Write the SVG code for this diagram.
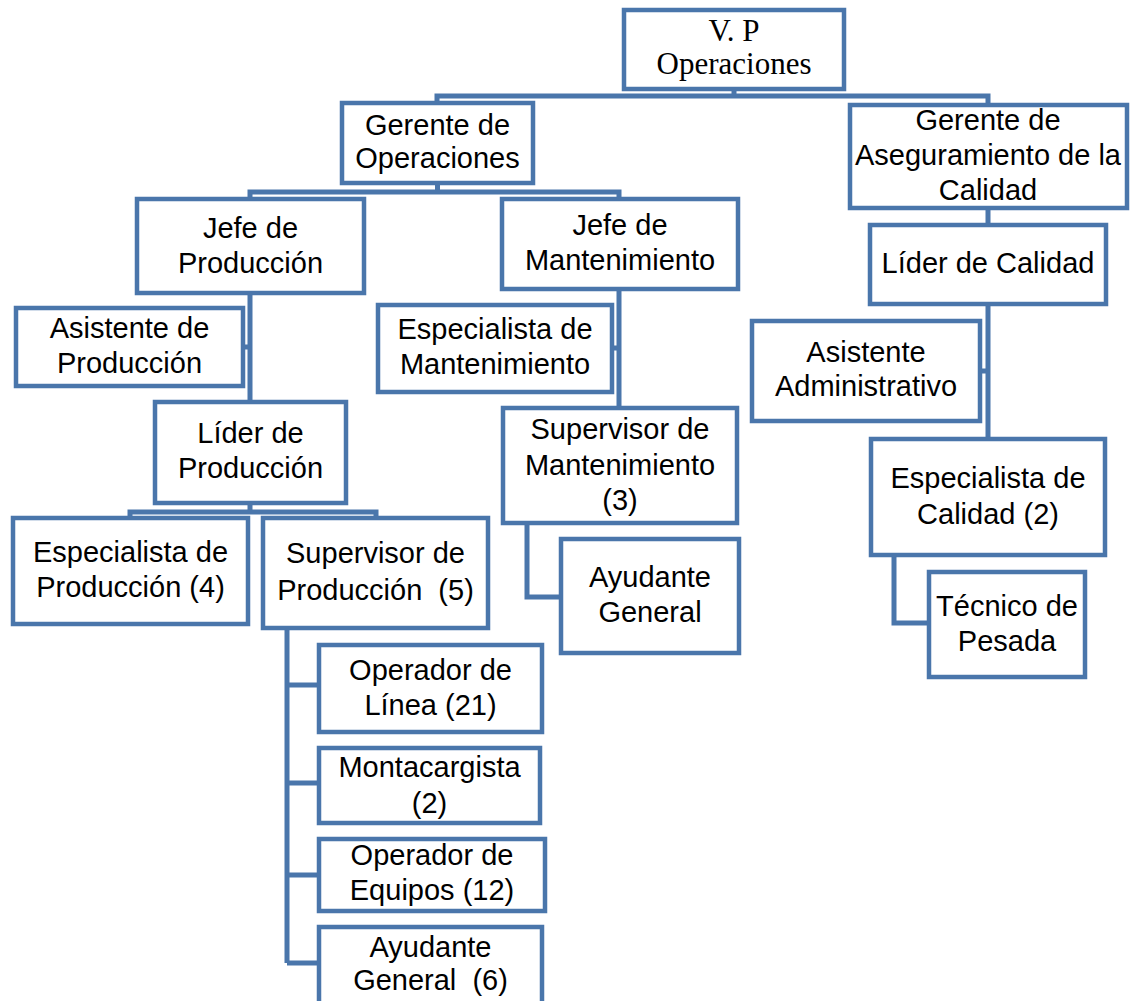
<svg xmlns="http://www.w3.org/2000/svg" width="1137" height="1001" viewBox="0 0 1137 1001">
<style>
.box{fill:#fff;stroke:#4a76ab;stroke-width:4.5}
.ln{fill:none;stroke:#4a76ab;stroke-width:5}
.t{font-family:"Liberation Sans",Arial,sans-serif;font-size:29px;fill:#000;text-anchor:middle}
.s{font-family:"Liberation Serif","Times New Roman",serif;font-size:31px;fill:#000;text-anchor:middle}
</style>
<rect width="1137" height="1001" fill="#fff"/>
<g id="connectors">
<path class="ln" d="M734 89 V96 M437 103 V96 H988 V105"/>
<path class="ln" d="M437.5 183 V192 M250 199 V192 H619 V199"/>
<path class="ln" d="M250 293 V402 M243 347 H250"/>
<path class="ln" d="M250 503 V512 M130 518 V512 H376 V518"/>
<path class="ln" d="M287 628 V963 M287 685 H319 M287 783 H319 M287 875 H319 M287 963 H319"/>
<path class="ln" d="M619 289 V408 M612 348 H619"/>
<path class="ln" d="M527 523 V597 H561"/>
<path class="ln" d="M988 208 V225 M988 304 V439 M980 371 H988"/>
<path class="ln" d="M894 555 V623 H929"/>
</g>
<g id="vp"><rect class="box" x="624" y="10" width="220" height="79"/><text class="s" x="734" y="41">V. P</text><text class="s" x="734" y="74">Operaciones</text></g>
<g id="gerente-operaciones"><rect class="box" x="342" y="103" width="191" height="80"/><text class="t" x="437.5" y="135">Gerente de</text><text class="t" x="437.5" y="168">Operaciones</text></g>
<g id="gerente-calidad"><rect class="box" x="850" y="105" width="277" height="103"/><text class="t" x="988" y="130">Gerente de</text><text class="t" x="988" y="165">Aseguramiento de la</text><text class="t" x="988" y="200">Calidad</text></g>
<g id="jefe-produccion"><rect class="box" x="137" y="199" width="227" height="94"/><text class="t" x="250.5" y="238">Jefe de</text><text class="t" x="250.5" y="273">Producción</text></g>
<g id="jefe-mantenimiento"><rect class="box" x="502" y="199" width="236" height="90"/><text class="t" x="620" y="235">Jefe de</text><text class="t" x="620" y="270">Mantenimiento</text></g>
<g id="lider-calidad"><rect class="box" x="870" y="225" width="236" height="79"/><text class="t" x="988" y="273">Líder de Calidad</text></g>
<g id="asistente-produccion"><rect class="box" x="16" y="308" width="227" height="78"/><text class="t" x="129.5" y="338">Asistente de</text><text class="t" x="129.5" y="373">Producción</text></g>
<g id="especialista-mantenimiento"><rect class="box" x="378" y="305" width="234" height="87"/><text class="t" x="495" y="339">Especialista de</text><text class="t" x="495" y="374">Mantenimiento</text></g>
<g id="asistente-administrativo"><rect class="box" x="752" y="321" width="228" height="100"/><text class="t" x="866" y="362">Asistente</text><text class="t" x="866" y="396">Administrativo</text></g>
<g id="lider-produccion"><rect class="box" x="155" y="402" width="191" height="101"/><text class="t" x="250.5" y="443">Líder de</text><text class="t" x="250.5" y="478">Producción</text></g>
<g id="supervisor-mantenimiento"><rect class="box" x="503" y="408" width="234" height="115"/><text class="t" x="620" y="439">Supervisor de</text><text class="t" x="620" y="475">Mantenimiento</text><text class="t" x="620" y="510">(3)</text></g>
<g id="especialista-calidad"><rect class="box" x="871" y="439" width="234" height="116"/><text class="t" x="988" y="488">Especialista de</text><text class="t" x="988" y="524">Calidad (2)</text></g>
<g id="especialista-produccion"><rect class="box" x="13" y="518" width="235" height="106"/><text class="t" x="130.5" y="562">Especialista de</text><text class="t" x="130.5" y="597">Producción (4)</text></g>
<g id="supervisor-produccion"><rect class="box" x="263" y="518" width="225" height="110"/><text class="t" x="375.5" y="563">Supervisor de</text><text class="t" x="375.5" y="600">Producción &#160;(5)</text></g>
<g id="ayudante-general-mant"><rect class="box" x="561" y="539" width="178" height="114"/><text class="t" x="650" y="587">Ayudante</text><text class="t" x="650" y="622">General</text></g>
<g id="tecnico-pesada"><rect class="box" x="929" y="572" width="156" height="105"/><text class="t" x="1007" y="616">Técnico de</text><text class="t" x="1007" y="651">Pesada</text></g>
<g id="operador-linea"><rect class="box" x="319" y="645" width="223" height="87"/><text class="t" x="430.5" y="680">Operador de</text><text class="t" x="430.5" y="715">Línea (21)</text></g>
<g id="montacargista"><rect class="box" x="319" y="748" width="221" height="75"/><text class="t" x="429.5" y="777">Montacargista</text><text class="t" x="429.5" y="813">(2)</text></g>
<g id="operador-equipos"><rect class="box" x="319" y="839" width="226" height="72"/><text class="t" x="432" y="865">Operador de</text><text class="t" x="432" y="900">Equipos (12)</text></g>
<g id="ayudante-general-prod"><rect class="box" x="319" y="927" width="223" height="90"/><text class="t" x="430.5" y="957">Ayudante</text><text class="t" x="430.5" y="990">General &#160;(6)</text></g>
</svg>
